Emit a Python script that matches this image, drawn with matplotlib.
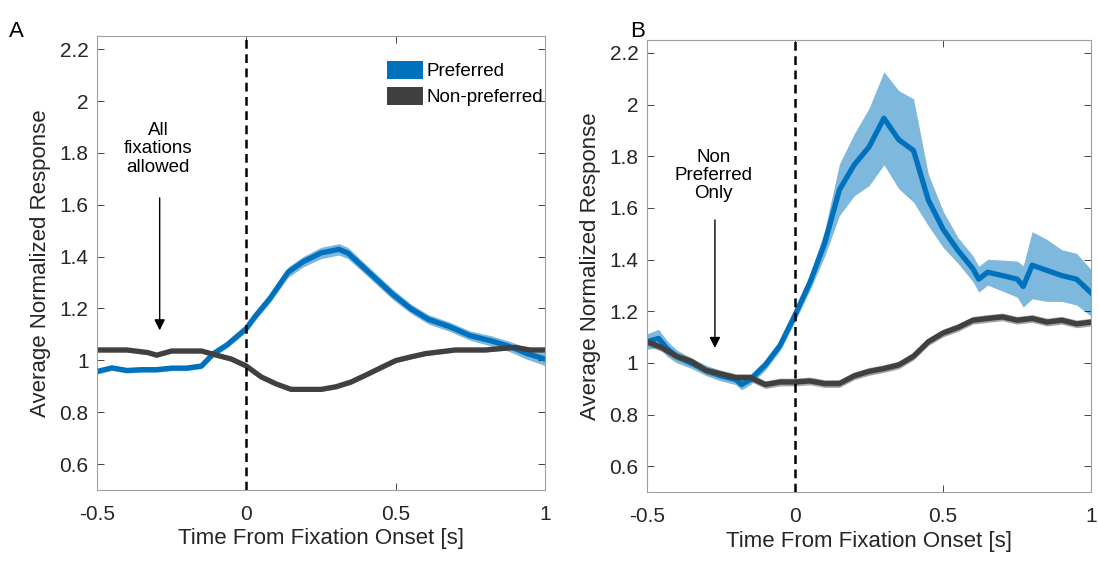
import numpy as np
import matplotlib.pyplot as plt
from matplotlib.patches import Patch

plt.rcParams['font.family'] = ['Liberation Sans', 'DejaVu Sans']

# Panel A - all fixations allowed
t_a = [-0.5, -0.45, -0.4, -0.35, -0.3, -0.25, -0.2, -0.15, -0.11, -0.064, 0.0, 0.03,
       0.08, 0.14, 0.19, 0.25, 0.31, 0.34, 0.41, 0.49, 0.55, 0.61, 0.68, 0.75, 0.82,
       0.88, 0.94, 1.0]
pref_a = [0.957, 0.971, 0.961, 0.964, 0.964, 0.97, 0.97, 0.978, 1.026, 1.06, 1.123, 1.17,
          1.24, 1.34, 1.38, 1.414, 1.428, 1.414, 1.34, 1.255, 1.2, 1.158, 1.13, 1.095, 1.075,
          1.054, 1.026, 1.005]
pref_a_err = [0.01, 0.01, 0.01, 0.01, 0.01, 0.01, 0.01, 0.01, 0.012, 0.012, 0.014, 0.015,
              0.017, 0.02, 0.02, 0.022, 0.022, 0.022, 0.02, 0.02, 0.018, 0.018, 0.018, 0.018,
              0.02, 0.02, 0.022, 0.025]

t_a_np = [-0.5, -0.4, -0.33, -0.3, -0.25, -0.15, -0.1, -0.05, 0.0, 0.05, 0.1, 0.15, 0.2,
          0.25, 0.3, 0.35, 0.4, 0.45, 0.5, 0.55, 0.6, 0.7, 0.8, 0.9, 0.95, 1.0]
nonpref_a = [1.04, 1.04, 1.03, 1.02, 1.036, 1.036, 1.02, 1.005, 0.978, 0.936, 0.909, 0.888,
             0.888, 0.888, 0.898, 0.916, 0.943, 0.971, 0.999, 1.013, 1.026, 1.04, 1.04, 1.05,
             1.04, 1.04]
nonpref_a_err = [0.008] * len(t_a_np)

# Panel B - non preferred only
t_b = [-0.5, -0.46, -0.43, -0.4, -0.35, -0.3, -0.25, -0.2, -0.18, -0.15, -0.1, -0.05, 0.0,
       0.05, 0.1, 0.12, 0.15, 0.2, 0.25, 0.3, 0.35, 0.4, 0.45, 0.5, 0.55, 0.6, 0.62, 0.65,
       0.7, 0.75, 0.77, 0.8, 0.85, 0.9, 0.95, 1.0]
pref_b = [1.082, 1.095, 1.054, 1.026, 0.999, 0.971, 0.95, 0.936, 0.916, 0.936, 0.992, 1.068,
          1.185, 1.31, 1.462, 1.545, 1.67, 1.767, 1.836, 1.947, 1.864, 1.822, 1.63, 1.517,
          1.435, 1.365, 1.324, 1.351, 1.338, 1.324, 1.296, 1.378, 1.358, 1.338, 1.324, 1.27]
pref_b_err = [0.03, 0.035, 0.03, 0.025, 0.02, 0.02, 0.02, 0.02, 0.02, 0.02, 0.02, 0.02, 0.025,
              0.03, 0.05, 0.07, 0.1, 0.12, 0.15, 0.18, 0.19, 0.2, 0.1, 0.07, 0.05, 0.05, 0.05,
              0.05, 0.06, 0.07, 0.08, 0.13, 0.12, 0.1, 0.1, 0.09]

t_b_np = [-0.5, -0.45, -0.4, -0.35, -0.3, -0.25, -0.2, -0.15, -0.1, -0.05, 0.0, 0.05, 0.1,
          0.15, 0.2, 0.25, 0.3, 0.35, 0.4, 0.45, 0.5, 0.55, 0.6, 0.65, 0.7, 0.75, 0.8, 0.85,
          0.9, 0.95, 1.0]
nonpref_b = [1.082, 1.06, 1.026, 1.006, 0.971, 0.957, 0.943, 0.943, 0.916, 0.926, 0.926, 0.93,
             0.92, 0.92, 0.95, 0.967, 0.978, 0.992, 1.026, 1.082, 1.116, 1.137, 1.165, 1.172,
             1.178, 1.165, 1.172, 1.158, 1.165, 1.151, 1.158]
nonpref_b_err = [0.015] * len(t_b_np)

BLUE = '#0072BD'
GRAY = '#404040'

fig = plt.figure(figsize=(10.98, 5.63), dpi=100)
ax_a = fig.add_axes([0.0883, 0.1297, 0.408, 0.806])
ax_b = fig.add_axes([0.589, 0.126, 0.405, 0.803])


def panel(ax, t1, y1, e1, t2, y2, e2):
    y1, e1 = np.array(y1), np.array(e1)
    y2, e2 = np.array(y2), np.array(e2)
    ax.fill_between(t1, y1 - e1, y1 + e1, color=BLUE, alpha=0.5, lw=0)
    ax.fill_between(t2, y2 - e2, y2 + e2, color='#808080', alpha=0.7, lw=0)
    ax.plot(t1, y1, color=BLUE, lw=3.8, solid_joinstyle='round')
    ax.plot(t2, y2, color=GRAY, lw=3.8, solid_joinstyle='round')
    ax.axvline(0, color='black', ls=(0, (3.5, 2.2)), lw=1.8)
    ax.set_xlim(-0.5, 1)
    ax.set_ylim(0.5, 2.25)
    ax.set_xticks([-0.5, 0, 0.5, 1])
    ax.set_xticklabels(['-0.5', '0', '0.5', '1'])
    ax.set_yticks([0.6, 0.8, 1, 1.2, 1.4, 1.6, 1.8, 2, 2.2])
    ax.set_yticklabels(['0.6', '0.8', '1', '1.2', '1.4', '1.6', '1.8', '2', '2.2'])
    ax.tick_params(direction='in', top=True, right=True, labelsize=15,
                   colors='#262626', length=5, width=0.6)
    ax.tick_params(axis='x', pad=11)
    ax.tick_params(axis='y', pad=6)
    for s in ax.spines.values():
        s.set_color('#a0a0a0')
        s.set_linewidth(0.8)
    ax.set_xlabel('Time From Fixation Onset [s]', fontsize=16, color='#262626', labelpad=3)
    ax.set_ylabel('Average Normalized Response', fontsize=16, color='#262626', labelpad=6)


panel(ax_a, t_a, pref_a, pref_a_err, t_a_np, nonpref_a, nonpref_a_err)
panel(ax_b, t_b, pref_b, pref_b_err, t_b_np, nonpref_b, nonpref_b_err)

# annotations
ax_a.text(-0.296, 1.815, 'All\nfixations\nallowed', ha='center', va='center',
          fontsize=13.5, linespacing=1.1)
ax_a.annotate('', xy=(-0.29, 1.105), xytext=(-0.29, 1.637),
              arrowprops=dict(arrowstyle='-|>', color='black', lw=1.0, mutation_scale=16))
ax_b.text(-0.275, 1.726, 'Non\nPreferred\nOnly', ha='center', va='center',
          fontsize=13.5, linespacing=1.1)
ax_b.annotate('', xy=(-0.27, 1.047), xytext=(-0.27, 1.564),
              arrowprops=dict(arrowstyle='-|>', color='black', lw=1.0, mutation_scale=16))

# legend
handles = [Patch(facecolor=BLUE, label='Preferred'),
           Patch(facecolor=GRAY, label='Non-preferred')]
ax_a.legend(handles=handles, loc='upper right', frameon=False, fontsize=13.5,
            handlelength=1.9, handleheight=1.1, handletextpad=0.2, labelspacing=0.35,
            borderaxespad=0, borderpad=0.1, bbox_to_anchor=(1.0, 0.95))

fig.text(0.008, 0.935, 'A', fontsize=16)
fig.text(0.574, 0.935, 'B', fontsize=16)

plt.savefig('out.png', dpi=100)
